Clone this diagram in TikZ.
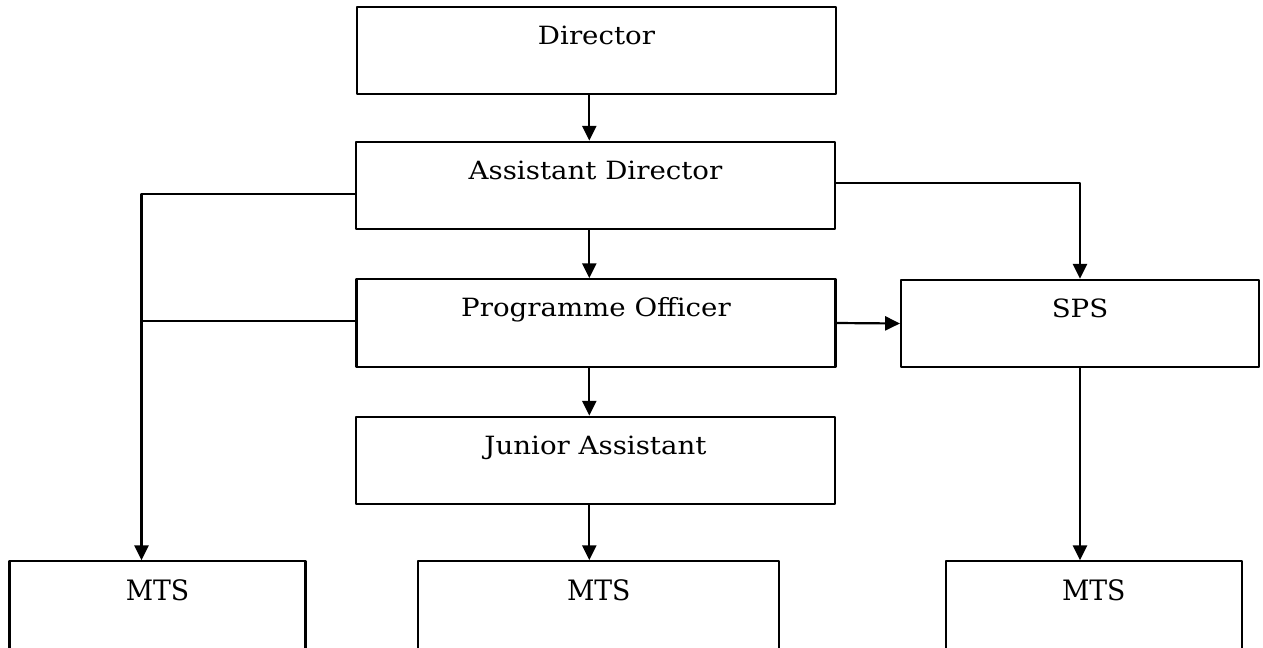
\documentclass[tikz,border=0pt]{standalone}
\usepackage{fontspec}
\setmainfont{DejaVu Serif}[FakeStretch=1.1]
\newfontfamily\mtsfont{DejaVu Serif}[FakeStretch=0.95]
\usetikzlibrary{arrows.meta,calc}

\begin{document}
\begin{tikzpicture}[x=0.2mm,y=-0.2mm,line join=round]
\tikzset{post/.style={draw,line width=1.25pt,rectangle,minimum width=#1*0.2mm,minimum height=87.5*0.2mm,inner sep=0pt},
  posttext/.style={anchor=base,inner sep=0pt,font=\fontsize{14.3}{17}\selectfont,yshift=-7.7mm},
  link/.style={line width=1.25pt,-{Triangle[length=8.4pt,width=8pt]}}}
\useasboundingbox (0,0) rectangle (1263,647);
\clip (0,0) rectangle (1263,647);
\foreach \n/\x/\y/\w/\t in {dir/596.5/50.5/479/Director,ad/595.5/185.5/479/Assistant Director,po/596/323/479/Programme Officer,ja/595.5/460.5/479/Junior Assistant,sps/1080/323.5/358/SPS}
  \node[post=\w,label={[posttext]north:\t}] (\n) at (\x,\y) {};
\foreach \n/\x/\w in {mtsa/157.5/296,mtsb/598.8/361,mtsc/1093.8/296}
  \node[post=\w,label={[posttext,font=\mtsfont\fontsize{16}{19}\selectfont,yshift=-0.3mm]north:MTS}] (\n) at (\x,605) {};
\coordinate (spine) at (589.3,0);
\coordinate (lbus) at (141.5,194);
\coordinate (ljoin) at (141.5,321);
\coordinate (rbus) at (1080,183.3);
\draw[link] (dir.south -| spine) -- (ad.north -| spine);
\draw[link] (ad.south -| spine) -- (po.north -| spine);
\draw[link] (po.south -| spine) -- (ja.north -| spine);
\draw[link] (ja.south -| spine) -- (mtsb.north -| spine);
\draw[link] (ad.west |- lbus) -- (lbus) -- (mtsa.north -| lbus);
\draw[line width=1.25pt] (po.west |- ljoin) -- (ljoin);
\draw[link] (ad.east |- rbus) -- (rbus) -- (sps.north);
\draw[link] (po.east) -- (sps.west);
\draw[link] (sps.south) -- (mtsc.north -| sps.south);
\end{tikzpicture}
\end{document}
